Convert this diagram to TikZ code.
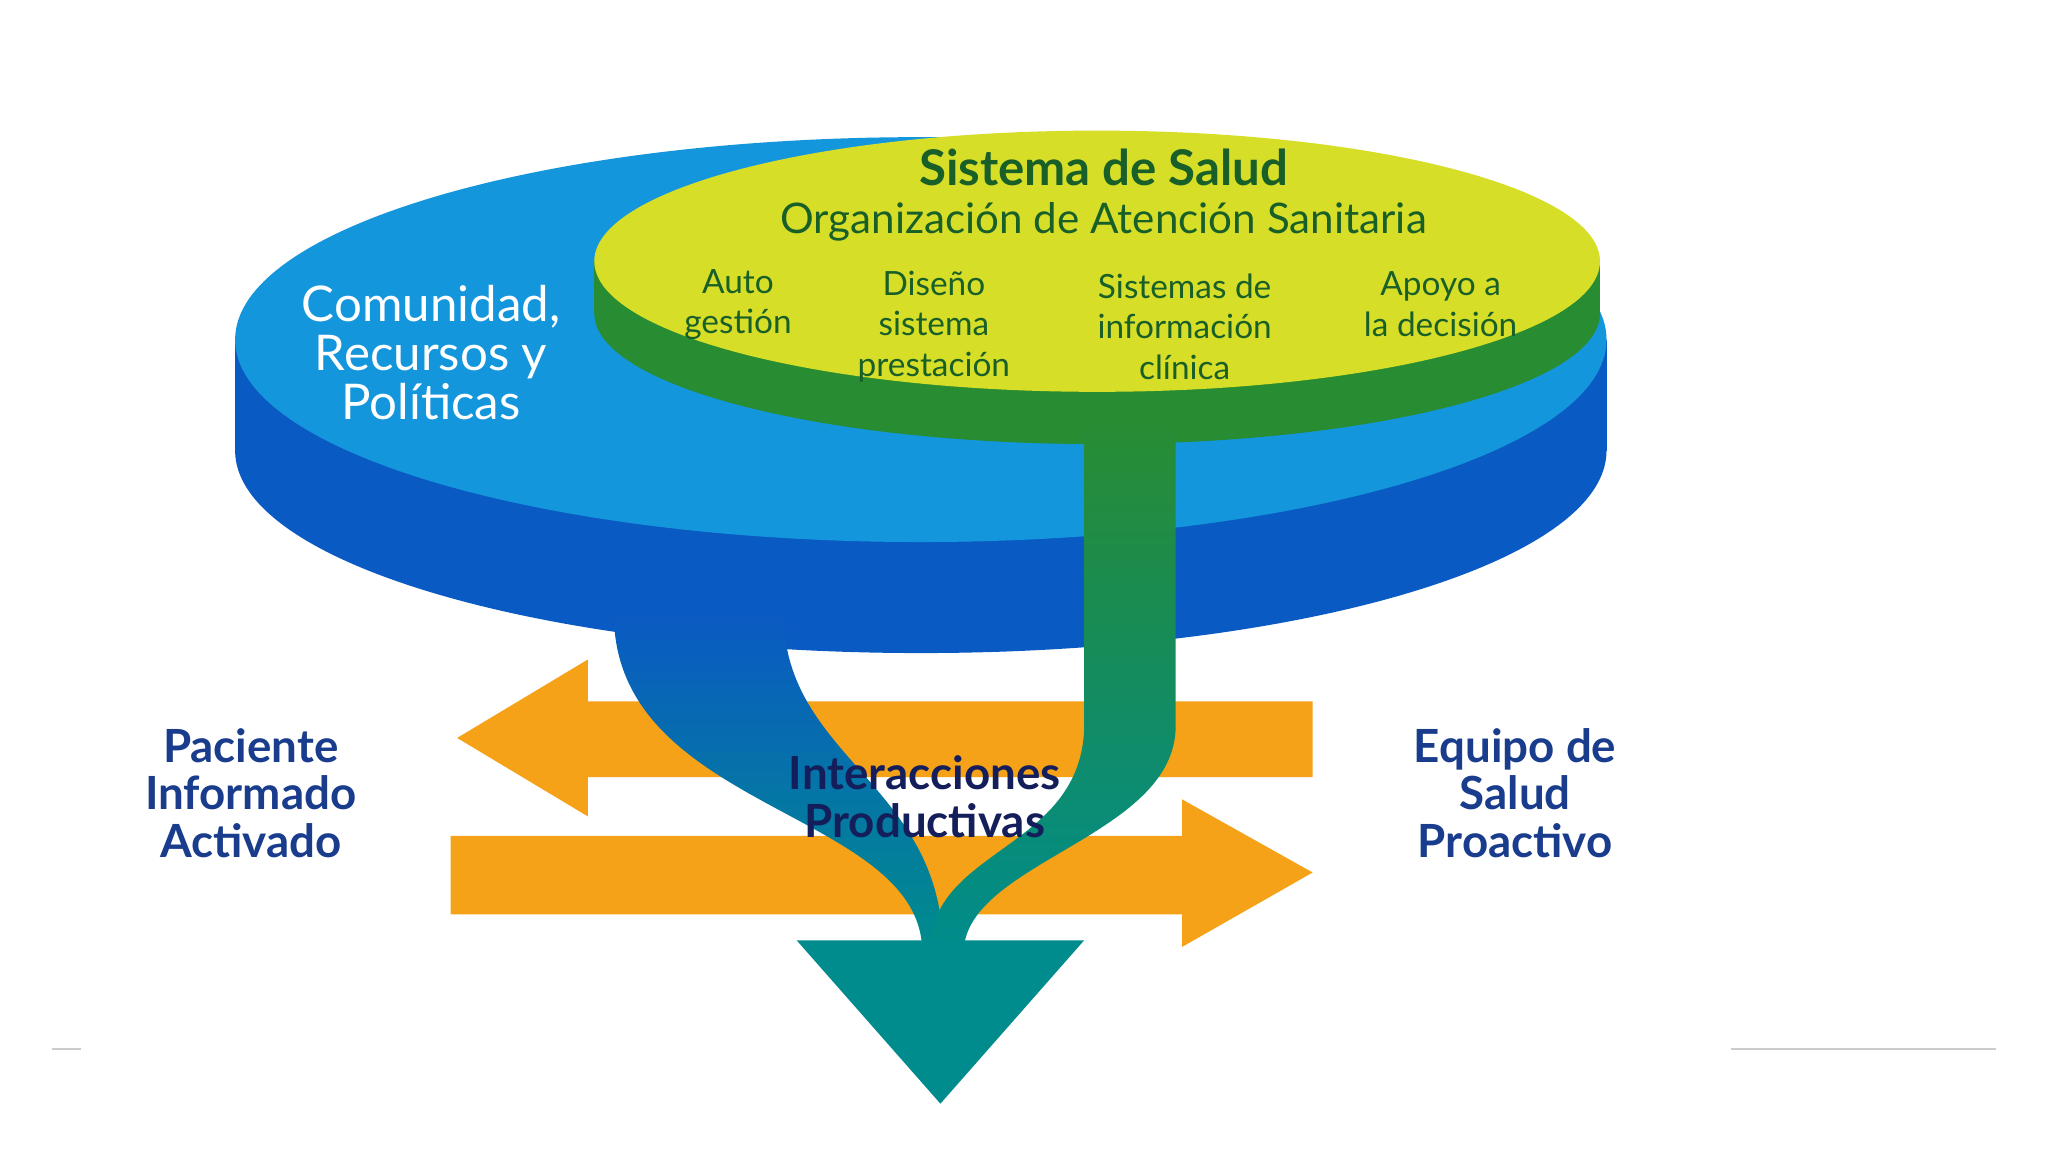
\documentclass[tikz,border=0pt]{standalone}
\usepackage{fontspec}
\setmainfont{Lato}
\begin{document}
\definecolor{lblue}{RGB}{20,150,220}
\definecolor{dblue}{RGB}{10,90,195}
\definecolor{yel}{RGB}{215,222,40}
\definecolor{grn}{RGB}{40,140,50}
\definecolor{dgrn}{RGB}{25,95,40}
\definecolor{org}{RGB}{246,162,24}
\definecolor{teal1}{RGB}{0,140,140}
\definecolor{navy}{RGB}{25,60,140}
\definecolor{navyd}{RGB}{20,30,90}
\begin{tikzpicture}[x=0.01306cm,y=-0.01306cm,
  lbl/.style={font=\bfseries\fontsize{13}{13.5}\selectfont,text=navy,align=center},
  col/.style={font=\fontsize{9.5}{11.5}\selectfont,text=dgrn,align=center}]
\useasboundingbox (0,0) rectangle (1568,882);
\fill[white] (0,0) rectangle (1568,882);
\draw[gray!40] (40,803) -- (62,803) (1325,803) -- (1528,803);
% blue disc
\fill[dblue] (705,345) ellipse [x radius=525,y radius=155];
\fill[dblue] (180,260) rectangle (1230,345);
\fill[lblue] (705,260) ellipse [x radius=525,y radius=155];
% green disc
\fill[grn] (840,240) ellipse [x radius=385,y radius=100];
\fill[grn] (455,200) rectangle (1225,240);
\fill[yel] (840,200) ellipse [x radius=385,y radius=100];
% orange arrows
\fill[org] (350,565) -- (450,505) -- (450,537) -- (1005,537) -- (1005,595) -- (450,595) -- (450,625) -- cycle;
\fill[org] (1005,668) -- (905,612) -- (905,640) -- (345,640) -- (345,700) -- (905,700) -- (905,725) -- cycle;
% streams
\shade[top color=dblue,bottom color=teal1] (470,470) .. controls (470,620) and (700,620) .. (706,725) -- (722,725) .. controls (720,600) and (600,580) .. (600,470) -- cycle;
\shade[top color=grn,bottom color=teal1] (830,320) -- (830,560) .. controls (825,650) and (715,650) .. (712,725) -- (738,725) .. controls (745,660) and (895,640) .. (900,560) -- (900,320) -- cycle;
\fill[teal1] (610,720) -- (830,720) -- (720,845) -- cycle;
% texts
\node[font=\bfseries\fontsize{14}{15}\selectfont,text=dgrn] (t1) at (845,128) {Sistema de Salud};
\node[font=\fontsize{12}{13}\selectfont,text=dgrn] (t2) at (845,170) {Organización de Atención Sanitaria};
\node[col] (c1) at (565,233) {Auto\\gestión};
\node[col] (c2) at (715,250) {Diseño\\sistema\\prestación};
\node[col] (c3) at (907,250) {Sistemas de\\información\\clínica};
\node[col] (c4) at (1103,233) {Apoyo a\\la decisión};
\node[font=\fontsize{14}{14}\selectfont,text=white,align=center] (com) at (330,270) {Comunidad,\\Recursos y\\Políticas};
\node[lbl] (pac) at (192,607) {Paciente\\Informado\\Activado};
\node[lbl] (equ) at (1160,607) {Equipo de\\Salud\\Proactivo};
\node[lbl,text=navyd] (int) at (708,610) {Interacciones\\Productivas};
\end{tikzpicture}
\end{document}
